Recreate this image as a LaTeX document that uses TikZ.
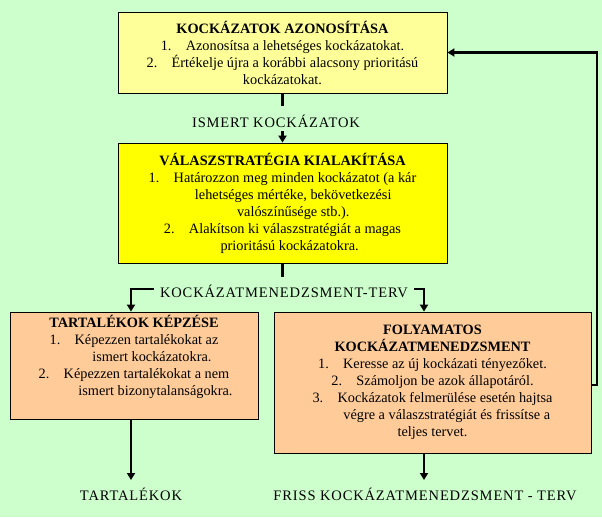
\documentclass[tikz,border=0pt]{standalone}
\usepackage{fontspec}
\setmainfont{Liberation Serif}
\usetikzlibrary{arrows.meta}
\definecolor{bg}{HTML}{CCFFCC}
\definecolor{lyel}{HTML}{FFFF99}
\definecolor{yel}{HTML}{FFFF00}
\definecolor{peach}{HTML}{FFCC99}
\begin{document}
\begin{tikzpicture}[x=1pt,y=-1pt,
  box/.style={draw=black,line width=0.8pt,align=center,inner sep=2pt,font=\fontsize{14.3}{17}\selectfont},
  lbl/.style={fill=bg,inner sep=2pt,font=\fontsize{14.5}{16}\selectfont\addfontfeature{LetterSpace=6}},
  conn/.style={line width=2.6pt,-{Triangle[width=8pt,length=7pt]}},
  seg/.style={line width=2.6pt}]
\fill[bg] (0,0) rectangle (602,517);
\useasboundingbox (0,0) rectangle (602,517);
\node[box,fill=lyel,minimum width=329pt,minimum height=81pt] (b1) at (282.5,52.5)
 {\textbf{KOCKÁZATOK AZONOSÍTÁSA}\\1.\quad Azonosítsa a lehetséges kockázatokat.\\2.\quad Értékelje újra a korábbi alacsony prioritású\\kockázatokat.};
\node[box,fill=yel,minimum width=329pt,minimum height=120pt] (b2) at (282.5,203)
 {\textbf{VÁLASZSTRATÉGIA KIALAKÍTÁSA}\\1.\quad Határozzon meg minden kockázatot (a kár\\\hspace{1.5em}lehetséges mértéke, bekövetkezési\\\hspace{1.5em}valószínűsége stb.).\\2.\quad Alakítson ki válaszstratégiát a magas\\\hspace{1em}prioritású kockázatokra.};
\node[box,fill=peach,minimum width=248pt,minimum height=107pt] (b3) at (134,365.5)
 {\textbf{TARTALÉKOK KÉPZÉSE}\\1.\quad Képezzen tartalékokat az\\\hspace{2.5em}ismert kockázatokra.\\2.\quad Képezzen tartalékokat a nem\\\hspace{3em}ismert bizonytalanságokra.\\[4pt]};
\node[box,fill=peach,minimum width=317pt,minimum height=141pt] (b4) at (432.5,382.5)
 {\textbf{FOLYAMATOS}\\\textbf{KOCKÁZATMENEDZSMENT}\\1.\quad Keresse az új kockázati tényezőket.\\2.\quad Számoljon be azok állapotáról.\\3.\quad Kockázatok felmerülése esetén hajtsa\\\hspace{2em}végre a válaszstratégiát és frissítse a\\teljes tervet.};
% labels
\node[lbl] (l1) at (276,121) {ISMERT KOCKÁZATOK};
\coordinate (j1) at (282.5,106);
\draw[seg] (b1.south) -- (j1);
\draw[conn] (282.5,131) -- (b2.north);
% branch
\coordinate (j2) at (282.5,277);
\coordinate (bl) at (131,289);
\coordinate (br) at (424,289);
\draw[seg] (b2.south) -- (j2);
\draw[line width=2.6pt] ([xshift=-1.3pt]bl) -- ([xshift=1.3pt]br);
\node[lbl,inner xsep=6pt] (l2) at (284,291) {KOCKÁZATMENEDZSMENT-TERV};
\draw[conn] (bl) -- (bl |- b3.north);
\draw[conn] (br) -- (br |- b4.north);
% feedback
\coordinate (f1) at (597,385);
\coordinate (f2) at (597,52.5);
\draw[line width=2.6pt,-{Triangle[width=8pt,length=7pt]}] (b4.east |- f1) -- (f1) -- (f2) -- (b1.east);
% outputs
\node[lbl] (o1) at (131,494) {TARTALÉKOK};
\node[lbl] (o2) at (425,494) {FRISS KOCKÁZATMENEDZSMENT - TERV};
\draw[conn] (bl |- b3.south) -- (131,480);
\draw[conn] (br |- b4.south) -- (424,480);
\end{tikzpicture}
\end{document}
